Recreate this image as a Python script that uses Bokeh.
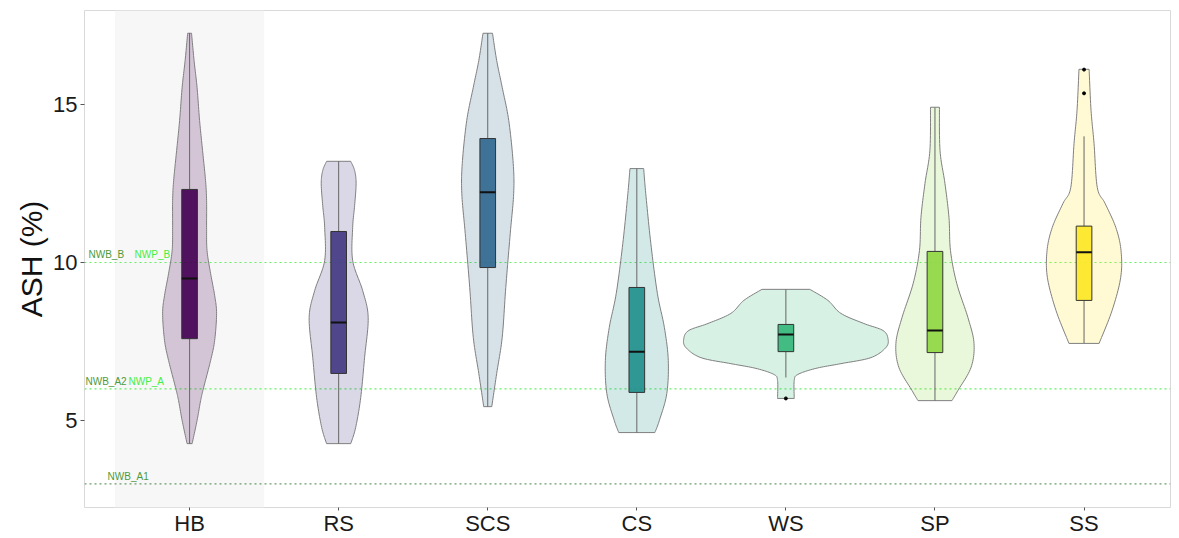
import numpy as np
from bokeh.plotting import figure
from bokeh.models import Range1d, FixedTicker, BoxAnnotation, Span
from bokeh.core.properties import value
from bokeh.embed import file_html
from bokeh.resources import INLINE

categories = ["HB", "RS", "SCS", "CS", "WS", "SP", "SS"]
colors = ["#440154", "#443A83", "#31688E", "#21908C", "#35B779", "#8FD744", "#FDE725"]

# violin outlines: y levels and half-widths (x units)
hb_y = [4.27, 5.0, 5.63, 6.04, 6.90, 7.53, 8.39, 8.96, 9.65, 10.38, 11.11, 11.96, 12.59, 13.54, 14.49, 15.54, 16.39, 17.25]
hb_w = [0.017, 0.050, 0.074, 0.094, 0.141, 0.168, 0.181, 0.168, 0.141, 0.117, 0.114, 0.114, 0.107, 0.087, 0.067, 0.050, 0.030, 0.013]
rs_y = [4.27, 4.78, 5.73, 7.0, 8.26, 9.11, 10.06, 11.11, 11.80, 12.50, 12.91, 13.20]
rs_w = [0.081, 0.114, 0.148, 0.174, 0.198, 0.161, 0.094, 0.094, 0.107, 0.117, 0.107, 0.081]
scs_y = [5.44, 6.49, 7.63, 9.21, 10.92, 12.18, 13.13, 14.49, 15.54, 16.39, 17.25]
scs_w = [0.027, 0.060, 0.097, 0.121, 0.151, 0.174, 0.171, 0.141, 0.097, 0.060, 0.032]
cs_y = [4.62, 5.0, 5.85, 6.90, 7.94, 9.02, 10.60, 12.18, 12.97]
cs_w = [0.121, 0.151, 0.201, 0.211, 0.185, 0.138, 0.094, 0.060, 0.046]
ws_y = [5.70, 6.27, 6.46, 6.65, 6.80, 6.99, 7.31, 7.59, 7.85, 8.07, 8.39, 8.80, 9.15]
ws_w = [0.056, 0.056, 0.081, 0.201, 0.369, 0.570, 0.671, 0.685, 0.651, 0.523, 0.369, 0.282, 0.161]
sp_y = [5.63, 5.95, 6.68, 7.44, 8.26, 9.34, 10.38, 11.42, 12.50, 13.54, 14.91]
sp_w = [0.114, 0.154, 0.242, 0.262, 0.221, 0.146, 0.104, 0.094, 0.067, 0.034, 0.030]
ss_y = [7.44, 8.48, 9.53, 10.38, 11.11, 11.87, 12.37, 13.77, 14.81, 16.11]
ss_w = [0.101, 0.188, 0.246, 0.248, 0.213, 0.141, 0.089, 0.067, 0.047, 0.034]

violin_y = [hb_y, rs_y, scs_y, cs_y, ws_y, sp_y, ss_y]
violin_w = [hb_w, rs_w, scs_w, cs_w, ws_w, sp_w, ss_w]

# box statistics
q1 = [7.59, 6.49, 9.84, 5.89, 7.18, 7.15, 8.80]
median = [9.49, 8.10, 12.22, 7.18, 7.72, 7.85, 10.32]
q3 = [12.31, 10.98, 13.92, 9.21, 8.04, 10.35, 11.15]
whisker_low = [4.27, 4.27, 5.44, 4.62, 6.36, 5.63, 7.45]
whisker_high = [17.25, 13.20, 17.25, 12.97, 9.15, 14.90, 13.99]
outlier_cat = [5, 7, 7]
outlier_val = [5.70, 15.35, 16.10]

# reference lines
ref_levels = [10, 6, 3]
ref_colors = ["#66EE66", "#66EE66", "#6A9A6A"]
ref_labels = ["NWB_B", "NWP_B", "NWB_A2", "NWP_A", "NWB_A1"]
ref_label_x = [0.322, 0.631, 0.302, 0.590, 0.450]
ref_label_y = [10, 10, 6, 6, 3]
ref_label_colors = ["#4E9A3A", "#44EE44", "#4E9A3A", "#44EE44", "#4E9A3A"]

FONT = "Liberation Sans"


def smooth_outline(yv, wv, n=12):
    """Catmull-Rom curve through the read outline points (drawing only)."""
    pts = np.column_stack([yv, wv])
    ext = np.vstack([pts[0], pts, pts[-1]])
    out = []
    for k in range(1, len(ext) - 2):
        p0, p1, p2, p3 = ext[k - 1], ext[k], ext[k + 1], ext[k + 2]
        for t in np.linspace(0, 1, n, endpoint=False):
            t2, t3 = t * t, t * t * t
            out.append(0.5 * ((2 * p1) + (-p0 + p2) * t + (2 * p0 - 5 * p1 + 4 * p2 - p3) * t2
                              + (-p0 + 3 * p1 - 3 * p2 + p3) * t3))
    out.append(pts[-1])
    out = np.array(out)
    return out[:, 0], np.clip(out[:, 1], 0.0, None)


p = figure(width=1179, height=538, output_backend="svg", toolbar_location=None,
           x_range=Range1d(0.295, 7.58), y_range=Range1d(2.25, 17.97),
           min_border_left=84, min_border_right=9, min_border_top=10, min_border_bottom=0)
p.background_fill_color = "white"
p.border_fill_color = "white"
p.outline_line_color = "#D9D9D9"
p.outline_line_width = 1
p.xgrid.visible = False
p.ygrid.visible = False

p.add_layout(BoxAnnotation(left=0.5, right=1.5, fill_color="#F7F7F7", fill_alpha=1.0,
                           line_color=None, level="underlay"))

for lvl, c in zip(ref_levels, ref_colors):
    p.add_layout(Span(location=lvl, dimension="width", line_color=c, line_width=1.2,
                      line_dash="2 3", level="underlay"))

xpos = list(range(1, len(categories) + 1))

for i, (vy, vw) in enumerate(zip(violin_y, violin_w)):
    cx = xpos[i]
    sy, sw = smooth_outline(vy, vw)
    xs = np.concatenate([cx - sw, (cx + sw)[::-1]])
    ys = np.concatenate([sy, sy[::-1]])
    p.patch(xs, ys, fill_color=colors[i], fill_alpha=0.2, line_color="#7F7F7F", line_width=1)

p.segment(x0=xpos, y0=whisker_low, x1=xpos, y1=q1, line_color="#666666", line_width=1)
p.segment(x0=xpos, y0=q3, x1=xpos, y1=whisker_high, line_color="#666666", line_width=1)
p.vbar(x=xpos, width=0.105, bottom=q1, top=q3, fill_color=colors, fill_alpha=0.92,
       line_color="#333333", line_width=1)
xs0 = [x - 0.0525 for x in xpos]
xs1 = [x + 0.0525 for x in xpos]
p.segment(x0=xs0, y0=median, x1=xs1, y1=median, line_color="#111111", line_width=2)
p.scatter(x=outlier_cat, y=outlier_val, size=3, color="black")

p.text(x=ref_label_x, y=ref_label_y, text=ref_labels, text_color=ref_label_colors,
       text_font=value(FONT), text_font_size="10px", text_baseline="bottom",
       text_align="left", y_offset=-2)

p.xaxis.ticker = FixedTicker(ticks=xpos)
p.xaxis.major_label_overrides = {x: c for x, c in zip(xpos, categories)}
p.yaxis.ticker = FixedTicker(ticks=[5, 10, 15])
for ax in (p.xaxis, p.yaxis):
    ax.axis_line_color = None
    ax.minor_tick_line_color = None
    ax.major_tick_in = 0
    ax.major_tick_line_color = "#555555"
    ax.major_label_text_font = FONT
    ax.major_label_text_font_size = "22px"
    ax.major_label_text_color = "#1A1A1A"
p.xaxis.major_tick_out = 3
p.xaxis.major_label_standoff = 0
p.yaxis.major_tick_out = 4
p.yaxis.major_label_standoff = 3
p.yaxis.axis_label = "ASH (%)"
p.yaxis.axis_label_text_font = FONT
p.yaxis.axis_label_text_font_size = "30px"
p.yaxis.axis_label_text_font_style = "normal"
p.yaxis.axis_label_text_color = "#111111"
p.yaxis.axis_label_standoff = 2

open("out.html", "w").write(file_html(p, INLINE))
